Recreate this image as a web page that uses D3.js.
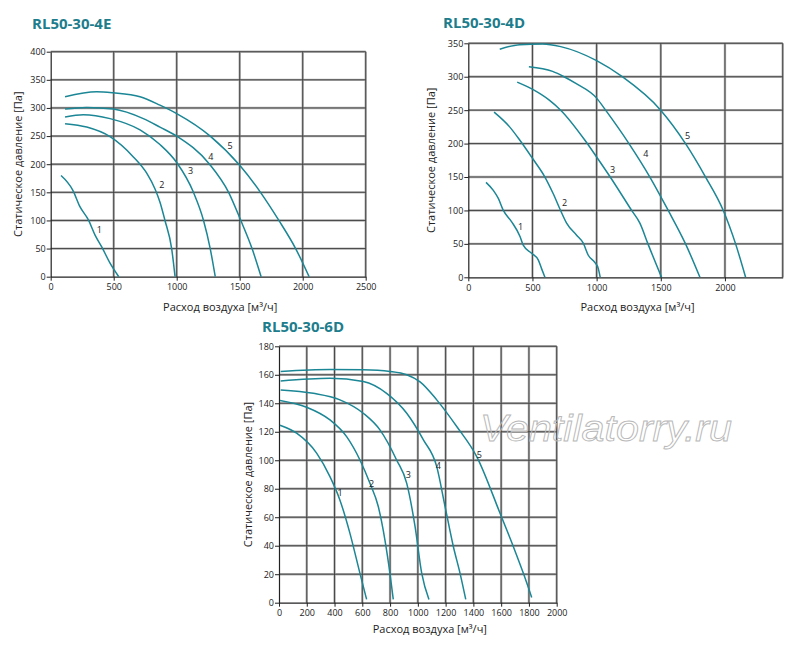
<!DOCTYPE html>
<html>
<head>
<meta charset="utf-8">
<script src="https://cdn.jsdelivr.net/npm/d3@7"></script>
<style>
  body { margin: 0; background: #fff; }
  svg { display: block; }
</style>
</head>
<body>
<script>
// fan curves, [flow m3/h, pressure Pa]
var curves4E = [
  [[82,180],[175,154],[233,124],[299,101],[352,74],[405,53],[471,24],[540,0]],
  [[114,272],[286,266],[471,249],[656,213],[762,184],[828,156],[868,132],[907,100],[960,50],[987,0]],
  [[114,284],[259,288],[471,281],[709,261],[867,235],[1000,203],[1133,150],[1213,100],[1266,50],[1306,0]],
  [[114,298],[286,301],[497,298],[735,281],[867,266],[1000,250],[1261,200],[1412,150],[1505,102],[1598,50],[1670,0]],
  [[114,320],[365,329],[497,327],[709,320],[867,305],[1000,290],[1266,250],[1500,198],[1665,150],[1811,100],[1944,50],[2051,0]]
];
var labels4E = [[386,83],[881,163],[1111,188],[1270,213],[1423,233]];

var curves4D = [
  [[138,142],[195,130],[234,118],[273,100],[338,83],[403,61],[428,48],[493,36],[545,26],[571,13],[597,0]],
  [[201,247],[322,225],[402,205],[500,178],[597,150],[662,125],[719,100],[766,81],[844,63],[896,51],[935,33],[987,22],[1013,13],[1028,0]],
  [[381,292],[502,281],[631,265],[720,250],[909,205],[1000,180],[1106,150],[1273,100],[1337,81],[1400,50],[1506,0]],
  [[472,315],[657,308],[746,300],[838,290],[1000,268],[1070,250],[1252,200],[1415,150],[1558,100],[1693,50],[1805,0]],
  [[245,341],[400,348],[580,349],[720,345],[1000,324],[1200,300],[1499,250],[1693,200],[1849,150],[1987,100],[2083,50],[2161,0]]
];
var labels4D = [[407,75],[750,112],[1124,160],[1384,184],[1709,212]];

var curves6D = [
  [[7,124.6],[127,119],[271,105],[367,88.5],[439,72],[511,48.7],[583,20.6],[631,2.3]],
  [[7,142],[199,137.2],[367,128.3],[487,116.6],[583,100.2],[655,83.8],[715,67.5],[763,44],[799,20.6],[823,2.3]],
  [[12,149.4],[247,147],[439,142.4],[607,133],[727,121.3],[847,100.2],[920,83.8],[980,53.4],[1028,20.6],[1080,2.3]],
  [[12,155.7],[367,157.6],[607,155.3],[775,147],[920,133],[1040,114.3],[1136,95.5],[1196,67.5],[1256,39.3],[1304,20.6],[1345,2.3]],
  [[12,162.3],[367,163.7],[607,163.5],[800,162.3],[920,160],[1016,155],[1136,142.4],[1280,123.7],[1424,102.6],[1592,62.8],[1688,39.3],[1760,20.6],[1820,3.7]]
];
var labels6D = [[439,76.8],[667,83.4],[931,90],[1148,96],[1443,103.7]];

var curveNames = ['1', '2', '3', '4', '5'];

var yTitle = 'Статическое давление [Па]';
var xTitle = 'Расход воздуха [м³/ч]';

var charts = [
  { title: 'RL50-30-4E', curves: curves4E, labels: labels4E,
    xMax: 2500, xTicks: [0, 500, 1000, 1500, 2000, 2500],
    yMax: 400, yTicks: [0, 50, 100, 150, 200, 250, 300, 350, 400],
    box: [50.7, 365.7, 51.7, 276.7], titlePos: [32, 29], yTitleX: 18, xTitleY: 311 },
  { title: 'RL50-30-4D', curves: curves4D, labels: labels4D,
    xMax: 2450, xTicks: [0, 500, 1000, 1500, 2000],
    yMax: 350, yTicks: [0, 50, 100, 150, 200, 250, 300, 350],
    box: [468.3, 782.7, 43.3, 277.3], titlePos: [443, 28], yTitleX: 431, xTitleY: 311 },
  { title: 'RL50-30-6D', curves: curves6D, labels: labels6D,
    xMax: 2000, xTicks: [0, 200, 400, 600, 800, 1000, 1200, 1400, 1600, 1800, 2000],
    yMax: 180, yTicks: [0, 20, 40, 60, 80, 100, 120, 140, 160, 180],
    box: [279, 556.7, 346.3, 602.7], titlePos: [262, 332], yTitleX: 248, xTitleY: 633 }
];

var width = 800,
  height = 661,
  teal = '#1b8695',
  font = 'Open Sans, Noto Sans, sans-serif';

var svg = d3.select('body').append('svg')
  .attr('width', width)
  .attr('height', height);

charts.forEach(function (c) {
  var left = c.box[0], right = c.box[1], top = c.box[2], bottom = c.box[3];

  var x = d3.scaleLinear().domain([0, c.xMax]).range([left, right]);
  var y = d3.scaleLinear().domain([0, c.yMax]).range([bottom, top]);

  var g = svg.append('g');

  // grid: soft gray halo + dark core
  var hLines = c.yTicks.filter(function (d) { return d > 0; });
  var vLines = c.xTicks.filter(function (d) { return d > 0; });
  if (vLines[vLines.length - 1] !== c.xMax) { vLines.push(c.xMax); }

  [['#b4b4b4', 2.4], ['#3a3a3a', 0.9]].forEach(function (st) {
    g.append('g').selectAll('line.h')
      .data(hLines).enter().append('line')
      .attr('x1', left).attr('x2', right)
      .attr('y1', function (d) { return y(d); })
      .attr('y2', function (d) { return y(d); })
      .attr('stroke', st[0]).attr('stroke-width', st[1]);
    g.append('g').selectAll('line.v')
      .data(vLines).enter().append('line')
      .attr('y1', top).attr('y2', bottom)
      .attr('x1', function (d) { return x(d); })
      .attr('x2', function (d) { return x(d); })
      .attr('stroke', st[0]).attr('stroke-width', st[1]);
  });

  // axes
  var yAxis = d3.axisLeft(y).tickValues(c.yTicks).tickFormat(d3.format('d')).tickSize(4).tickSizeOuter(0);
  var xAxis = d3.axisBottom(x).tickValues(c.xTicks).tickFormat(d3.format('d')).tickSize(4).tickSizeOuter(0);

  var ya = g.append('g').attr('transform', 'translate(' + left + ',0)').call(yAxis);
  var xa = g.append('g').attr('transform', 'translate(0,' + bottom + ')').call(xAxis);

  [ya, xa].forEach(function (a) {
    a.select('.domain').attr('stroke', '#222').attr('stroke-width', 1.2);
    a.selectAll('.tick line').attr('stroke', '#222');
    a.selectAll('.tick text')
      .attr('font-family', font)
      .attr('font-size', '9px')
      .attr('fill', '#222');
  });
  ya.selectAll('.tick text').attr('x', -5);
  xa.selectAll('.tick text').attr('y', 7);

  // curves
  var line = d3.line()
    .x(function (d) { return x(d[0]); })
    .y(function (d) { return y(d[1]); })
    .curve(d3.curveMonotoneX);

  g.append('g').selectAll('path')
    .data(c.curves).enter().append('path')
    .attr('d', line)
    .attr('fill', 'none')
    .attr('stroke', teal)
    .attr('stroke-width', 1.5);

  g.append('g').selectAll('text')
    .data(c.labels).enter().append('text')
    .attr('x', function (d) { return x(d[0]); })
    .attr('y', function (d) { return y(d[1]); })
    .attr('dy', '0.35em')
    .attr('text-anchor', 'middle')
    .attr('font-family', font)
    .attr('font-size', '9px')
    .attr('fill', '#222')
    .text(function (d, i) { return curveNames[i]; });

  // titles
  g.append('text')
    .attr('x', c.titlePos[0])
    .attr('y', c.titlePos[1])
    .attr('font-family', font)
    .attr('font-size', '15px')
    .attr('font-weight', 'bold')
    .attr('fill', '#1d7d8c')
    .text(c.title);

  g.append('text')
    .attr('transform', 'translate(' + c.yTitleX + ',' + ((top + bottom) / 2) + ') rotate(-90)')
    .attr('dy', '0.35em')
    .attr('text-anchor', 'middle')
    .attr('font-family', font)
    .attr('font-size', '11px')
    .attr('fill', '#222')
    .text(yTitle);

  g.append('text')
    .attr('x', (left + right) / 2 + 12)
    .attr('y', c.xTitleY)
    .attr('text-anchor', 'middle')
    .attr('font-family', font)
    .attr('font-size', '11px')
    .attr('fill', '#222')
    .text(xTitle);
});

// watermark
svg.append('text')
  .attr('x', 480)
  .attr('y', 441)
  .attr('textLength', 252)
  .attr('lengthAdjust', 'spacingAndGlyphs')
  .attr('font-family', 'Liberation Sans, Arial, sans-serif')
  .attr('font-style', 'italic')
  .attr('font-size', '37px')
  .attr('fill', 'none')
  .attr('stroke', '#b8b8b8')
  .attr('stroke-width', 0.9)
  .text('Ventilatorry.ru');
</script>
</body>
</html>
